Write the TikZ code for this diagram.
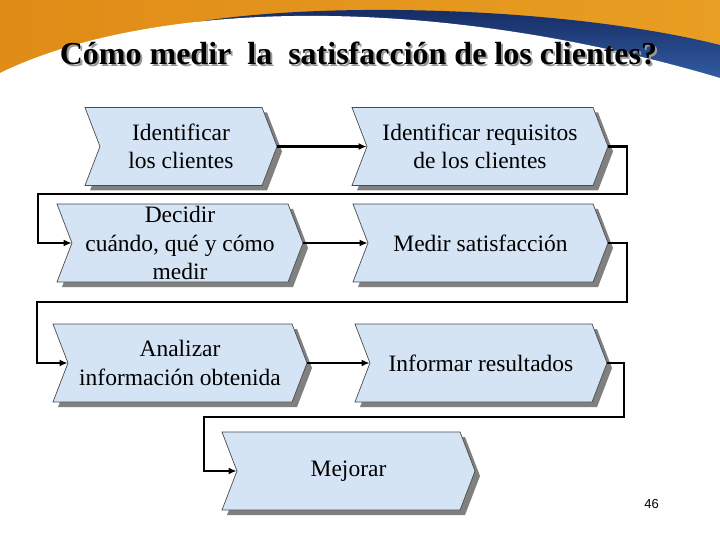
\documentclass[tikz,border=0pt]{standalone}
\usepackage{xcolor}
\usepackage{fontspec}
\setmainfont{Liberation Serif}
\newfontfamily\titlefont{Liberation Serif}
\newfontfamily\numfont{Liberation Sans}
\usetikzlibrary{shapes.symbols,shadows,arrows.meta}

\begin{document}
\begin{tikzpicture}[x=1pt,y=-1pt,
  paso/.style={shape=signal, signal from=west, signal to=east, signal pointer angle=138,
    draw=black!70, line width=0.7pt, fill=boxblue, inner sep=0pt, minimum height=78pt,
    align=center, font=\fontsize{23.5}{28.5}\selectfont,
    drop shadow={shadow xshift=5pt, shadow yshift=-5pt, fill=black!50, opacity=1}},
  flecha/.style={line width=2.2pt, -{Latex[length=8pt,width=7pt]}}]
  % Define colors
  \definecolor{boxblue}{RGB}{212,228,245}
  \definecolor{orangedark}{RGB}{224,140,24}
  \definecolor{orangelight}{RGB}{246,224,140}
  \definecolor{orangeright}{RGB}{232,158,34}
  \definecolor{navy}{RGB}{18,38,92}
  \definecolor{bandblue}{RGB}{55,100,172}

  \useasboundingbox (0,0) rectangle (720,540);
  \fill[white] (0,0) rectangle (720,540);

  % Draw the banner
  \shade[left color=orangedark, middle color=orangelight, right color=orangeright] (0,0) rectangle (720,90);
  \shade[top color=navy, bottom color=bandblue] (175,26) .. controls (300,0) and (560,5) .. (720,45) -- (720,90) -- (175,90) -- cycle;
  \fill[white] (0,73) .. controls (150,0) and (430,-8) .. (720,78) -- (720,540) -- (0,540) -- cycle;

  % Title with its shadow
  \node[anchor=base, text=black!40, font=\titlefont\bfseries\fontsize{32}{38}\selectfont] (sombra) at (360.5,67) {Cómo medir\ \ la\ \ satisfacción de los clientes?};
  \node[anchor=base, font=\titlefont\bfseries\fontsize{32}{38}\selectfont] (titulo) at (358.5,65) {Cómo medir\ \ la\ \ satisfacción de los clientes?};

  % Draw the steps
  \node[paso, minimum width=192pt] (clientes) at (181,146.5) {Identificar\\los clientes};
  \node[paso, minimum width=256pt] (requisitos) at (480,146.5) {Identificar requisitos\\de los clientes};
  \node[paso, minimum width=246pt] (decidir) at (180,243) {Decidir\\cuándo, qué y cómo\\medir};
  \node[paso, minimum width=255pt] (medir) at (480.5,243) {Medir satisfacción};
  \node[paso, minimum width=254pt] (analizar) at (180,363) {Analizar\\información obtenida};
  \node[paso, minimum width=252pt] (informar) at (481,363) {Informar resultados};
  \node[paso, minimum width=253pt] (mejorar) at (348.5,471) {Mejorar};

  % Turning points of the connectors
  \coordinate (r1) at (627,194);
  \coordinate (l1) at (38,194);
  \coordinate (r2) at (627,302);
  \coordinate (l2) at (37,302);
  \coordinate (r3) at (624,417);
  \coordinate (l3) at (204,417);

  % Draw the connectors
  \draw[flecha] (clientes.east) -- (requisitos.west);
  \draw[flecha] (requisitos.east) -| (r1) -- (l1) |- (decidir.west);
  \draw[flecha] (decidir.east) -- (medir.west);
  \draw[flecha] (medir.east) -| (r2) -- (l2) |- (analizar.west);
  \draw[flecha] (analizar.east) -- (informar.west);
  \draw[flecha] (informar.east) -| (r3) -- (l3) |- (mejorar.west);

  % Page number
  \node[font=\numfont\fontsize{13}{15}\selectfont] (pagina) at (651.5,504) {46};
\end{tikzpicture}
\end{document}
